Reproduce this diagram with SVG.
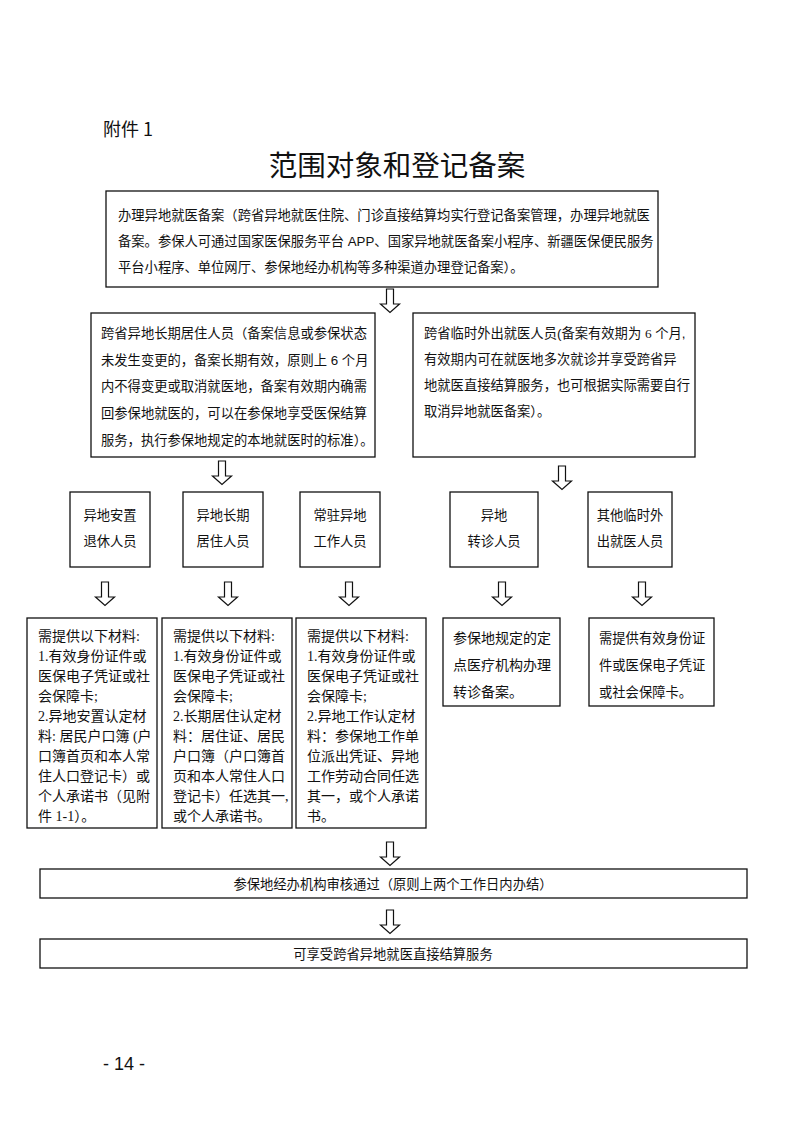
<svg xmlns="http://www.w3.org/2000/svg" width="793" height="1122" viewBox="0 0 793 1122">
<style>
.bx{fill:#fff;stroke:#111;stroke-width:1.3}
.ar{fill:#fff;stroke:#111;stroke-width:1.2;stroke-linejoin:miter}
.t{font-family:'Liberation Sans','Noto Sans CJK SC',sans-serif;font-size:13.3px;fill:#111}
.m{font-family:'Liberation Serif','Noto Sans CJK SC',sans-serif;font-size:14px;fill:#111}
.c{text-anchor:middle}
</style>
<defs>
<path id="arrow" d="M-3.5,0 V15 H-9.5 L0,23.5 L9.5,15 H3.5 V0 Z"/>
</defs>
<rect width="793" height="1122" fill="#fff"/>
<text x="103" y="136" style="font-family:'Noto Sans CJK SC',sans-serif;font-size:18px;fill:#111">附件 1</text>
<text x="397" y="176" class="c" style="font-family:'Noto Sans CJK SC',sans-serif;font-size:28.5px;fill:#111">范围对象和登记备案</text>

<g id="n-top">
<rect class="bx" x="106" y="191" width="552" height="96"/>
<text class="t" x="118" y="220">办理异地就医备案（跨省异地就医住院、门诊直接结算均实行登记备案管理，办理异地就医</text>
<text class="t" x="118" y="246">备案。参保人可通过国家医保服务平台 APP、国家异地就医备案小程序、新疆医保便民服务</text>
<text class="t" x="118" y="272">平台小程序、单位网厅、参保地经办机构等多种渠道办理登记备案）。</text>
</g>

<g id="n-long">
<rect class="bx" x="91" y="313" width="284" height="144"/>
<text class="t" x="101" y="338">跨省异地长期居住人员（备案信息或参保状态</text>
<text class="t" x="101" y="365">未发生变更的，备案长期有效，原则上 6 个月</text>
<text class="t" x="101" y="391">内不得变更或取消就医地，备案有效期内确需</text>
<text class="t" x="101" y="418">回参保地就医的，可以在参保地享受医保结算</text>
<text class="t" x="101" y="445">服务，执行参保地规定的本地就医时的标准）。</text>
</g>

<g id="n-temp">
<rect class="bx" x="413" y="313" width="282" height="144"/>
<text class="t" x="424" y="338">跨省临时外出就医人员(备案有效期为 <tspan style="font-family:'Liberation Serif',serif">6</tspan> 个月,</text>
<text class="t" x="424" y="364">有效期内可在就医地多次就诊并享受跨省异</text>
<text class="t" x="424" y="390">地就医直接结算服务，也可根据实际需要自行</text>
<text class="t" x="424" y="416">取消异地就医备案）。</text>
</g>

<g id="n-c1">
<rect class="bx" x="70" y="492" width="80" height="75"/>
<text class="t c" x="110" y="520">异地安置</text>
<text class="t c" x="110" y="546">退休人员</text>
</g>
<g id="n-c2">
<rect class="bx" x="183" y="492" width="80" height="75"/>
<text class="t c" x="223" y="520">异地长期</text>
<text class="t c" x="223" y="546">居住人员</text>
</g>
<g id="n-c3">
<rect class="bx" x="300" y="492" width="80" height="75"/>
<text class="t c" x="340" y="520">常驻异地</text>
<text class="t c" x="340" y="546">工作人员</text>
</g>
<g id="n-c4">
<rect class="bx" x="450" y="492" width="88" height="75"/>
<text class="t c" x="494" y="520">异地</text>
<text class="t c" x="494" y="546">转诊人员</text>
</g>
<g id="n-c5">
<rect class="bx" x="588" y="492" width="84" height="75"/>
<text class="t c" x="630" y="520">其他临时外</text>
<text class="t c" x="630" y="546">出就医人员</text>
</g>

<g id="n-m1">
<rect class="bx" x="27" y="618" width="130" height="210"/>
<text class="m" x="38" y="641">需提供以下材料:</text>
<text class="m" x="38" y="661">1.有效身份证件或</text>
<text class="m" x="38" y="681">医保电子凭证或社</text>
<text class="m" x="38" y="701">会保障卡;</text>
<text class="m" x="38" y="721">2.异地安置认定材</text>
<text class="m" x="38" y="741">料: 居民户口簿 (户</text>
<text class="m" x="38" y="761">口簿首页和本人常</text>
<text class="m" x="38" y="781">住人口登记卡）或</text>
<text class="m" x="38" y="801">个人承诺书（见附</text>
<text class="m" x="38" y="821">件 1-1）。</text>
</g>
<g id="n-m2">
<rect class="bx" x="162" y="618" width="130" height="210"/>
<text class="m" x="173" y="641">需提供以下材料:</text>
<text class="m" x="173" y="661">1.有效身份证件或</text>
<text class="m" x="173" y="681">医保电子凭证或社</text>
<text class="m" x="173" y="701">会保障卡;</text>
<text class="m" x="173" y="721">2.长期居住认定材</text>
<text class="m" x="173" y="741">料：居住证、居民</text>
<text class="m" x="173" y="761">户口簿（户口簿首</text>
<text class="m" x="173" y="781">页和本人常住人口</text>
<text class="m" x="173" y="801">登记卡）任选其一,</text>
<text class="m" x="173" y="821">或个人承诺书。</text>
</g>
<g id="n-m3">
<rect class="bx" x="296" y="618" width="130" height="210"/>
<text class="m" x="307" y="641">需提供以下材料:</text>
<text class="m" x="307" y="661">1.有效身份证件或</text>
<text class="m" x="307" y="681">医保电子凭证或社</text>
<text class="m" x="307" y="701">会保障卡;</text>
<text class="m" x="307" y="721">2.异地工作认定材</text>
<text class="m" x="307" y="741">料：参保地工作单</text>
<text class="m" x="307" y="761">位派出凭证、异地</text>
<text class="m" x="307" y="781">工作劳动合同任选</text>
<text class="m" x="307" y="801">其一，或个人承诺</text>
<text class="m" x="307" y="821">书。</text>
</g>
<g id="n-m4">
<rect class="bx" x="443" y="618" width="117" height="88"/>
<text class="m" x="453" y="643">参保地规定的定</text>
<text class="m" x="453" y="670">点医疗机构办理</text>
<text class="m" x="453" y="697">转诊备案。</text>
</g>
<g id="n-m5">
<rect class="bx" x="589" y="618" width="125" height="88"/>
<text class="t" x="599" y="643">需提供有效身份证</text>
<text class="t" x="599" y="670">件或医保电子凭证</text>
<text class="t" x="599" y="697">或社会保障卡。</text>
</g>

<g id="n-review">
<rect class="bx" x="40" y="869" width="707" height="29"/>
<text class="t c" x="393" y="889">参保地经办机构审核通过（原则上两个工作日内办结）</text>
</g>
<g id="n-final">
<rect class="bx" x="40" y="939" width="707" height="29"/>
<text class="t c" x="393" y="959">可享受跨省异地就医直接结算服务</text>
</g>

<g id="connectors">
<use href="#arrow" class="ar" x="390" y="289"/>
<use href="#arrow" class="ar" x="222" y="461"/>
<use href="#arrow" class="ar" x="562" y="466"/>
<use href="#arrow" class="ar" x="105" y="582"/>
<use href="#arrow" class="ar" x="228" y="582"/>
<use href="#arrow" class="ar" x="349" y="582"/>
<use href="#arrow" class="ar" x="502" y="582"/>
<use href="#arrow" class="ar" x="642" y="582"/>
<use href="#arrow" class="ar" x="390" y="842"/>
<use href="#arrow" class="ar" x="390" y="910"/>
</g>

<text x="103" y="1070" style="font-family:'Liberation Sans',sans-serif;font-size:18px;fill:#111">- 14 -</text>
</svg>
